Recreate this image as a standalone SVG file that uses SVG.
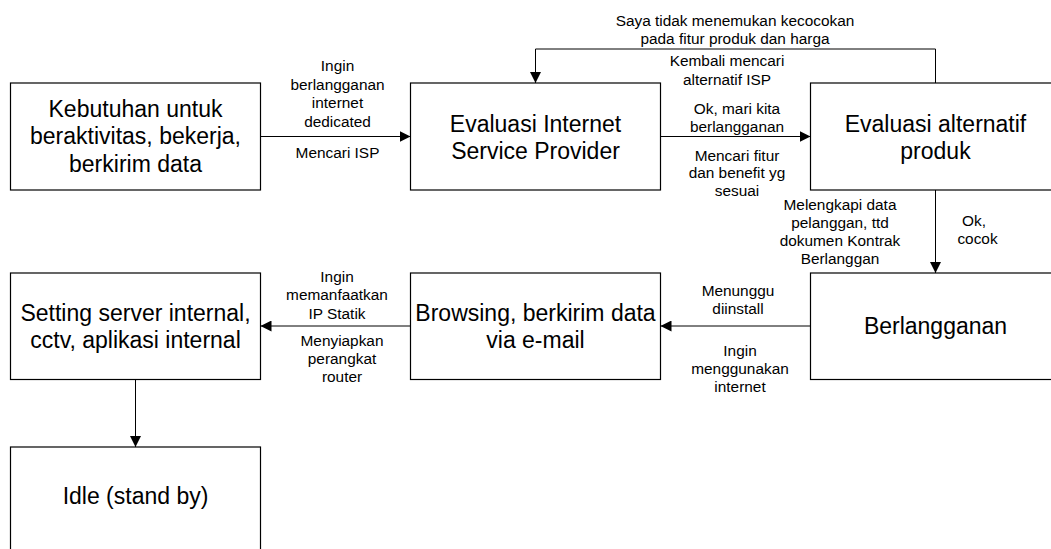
<svg xmlns="http://www.w3.org/2000/svg" width="1051" height="549" viewBox="0 0 1051 549">
  <style>
    .box { fill: #ffffff; stroke: #000000; stroke-width: 1.2; }
    .node-text { font-family: "Liberation Sans", Arial, sans-serif; font-size: 23px; fill: #000000; text-anchor: middle; }
    .label { font-family: "Liberation Sans", Arial, sans-serif; font-size: 15.4px; fill: #000000; text-anchor: middle; }
    .link { fill: none; stroke: #000000; stroke-width: 1; }
  </style>
  <defs>
    <marker id="arrow" viewBox="0 0 11 11" refX="11" refY="5.5" markerWidth="11" markerHeight="11" markerUnits="userSpaceOnUse" orient="auto">
      <path d="M0,0 L11,5.5 L0,11 Z" fill="#000000"/>
    </marker>
  </defs>
  <rect width="1051" height="549" fill="#ffffff"/>

  <!-- nodes -->
  <g id="kebutuhan">
    <rect class="box" x="10.5" y="83" width="250" height="107"/>
    <text class="node-text" x="135.5" y="116.5">Kebutuhan untuk</text>
    <text class="node-text" x="135.5" y="144">beraktivitas, bekerja,</text>
    <text class="node-text" x="135.5" y="171.5">berkirim data</text>
  </g>
  <g id="evaluasi-isp">
    <rect class="box" x="410.5" y="83" width="250" height="107"/>
    <text class="node-text" x="535.5" y="131.5">Evaluasi Internet</text>
    <text class="node-text" x="535.5" y="159">Service Provider</text>
  </g>
  <g id="evaluasi-produk">
    <rect class="box" x="810.5" y="83" width="250" height="107"/>
    <text class="node-text" x="935.5" y="131.5">Evaluasi alternatif</text>
    <text class="node-text" x="935.5" y="159">produk</text>
  </g>
  <g id="berlangganan">
    <rect class="box" x="810.5" y="273" width="250" height="106.5"/>
    <text class="node-text" x="935.5" y="334">Berlangganan</text>
  </g>
  <g id="browsing">
    <rect class="box" x="410.5" y="273" width="250" height="106.5"/>
    <text class="node-text" x="535.5" y="320.5">Browsing, berkirim data</text>
    <text class="node-text" x="535.5" y="348">via e-mail</text>
  </g>
  <g id="setting-server">
    <rect class="box" x="10.5" y="273" width="250" height="106.5"/>
    <text class="node-text" x="135.5" y="320.5">Setting server internal,</text>
    <text class="node-text" x="135.5" y="348">cctv, aplikasi internal</text>
  </g>
  <g id="idle">
    <rect class="box" x="10.5" y="447" width="250" height="120"/>
    <text class="node-text" x="135.5" y="504">Idle (stand by)</text>
  </g>

  <!-- connectors -->
  <g id="connectors">
    <line class="link" x1="260.5" y1="136.5" x2="410.5" y2="136.5" marker-end="url(#arrow)"/>
    <line class="link" x1="660.5" y1="136.5" x2="810.5" y2="136.5" marker-end="url(#arrow)"/>
    <polyline class="link" points="935.5,83 935.5,49 535.5,49 535.5,83" marker-end="url(#arrow)"/>
    <line class="link" x1="935.5" y1="190" x2="935.5" y2="273" marker-end="url(#arrow)"/>
    <line class="link" x1="810.5" y1="326" x2="660.5" y2="326" marker-end="url(#arrow)"/>
    <line class="link" x1="410.5" y1="326" x2="260.5" y2="326" marker-end="url(#arrow)"/>
    <line class="link" x1="135.5" y1="379.5" x2="135.5" y2="447" marker-end="url(#arrow)"/>
  </g>

  <!-- connector labels -->
  <g id="labels">
    <text class="label" x="337.5" y="71">Ingin</text>
    <text class="label" x="337.5" y="89.5">berlangganan</text>
    <text class="label" x="337.5" y="108">internet</text>
    <text class="label" x="337.5" y="126.5">dedicated</text>
    <text class="label" x="337.5" y="158">Mencari ISP</text>

    <text class="label" x="735" y="25.5">Saya tidak menemukan kecocokan</text>
    <text class="label" x="735" y="43.5">pada fitur produk dan harga</text>
    <text class="label" x="727" y="66">Kembali mencari</text>
    <text class="label" x="727" y="84.5">alternatif ISP</text>

    <text class="label" x="737" y="113.5">Ok, mari kita</text>
    <text class="label" x="737" y="132">berlangganan</text>
    <text class="label" x="737" y="160.5">Mencari fitur</text>
    <text class="label" x="737" y="178">dan benefit yg</text>
    <text class="label" x="737" y="195.5">sesuai</text>

    <text class="label" x="840" y="209.5">Melengkapi data</text>
    <text class="label" x="840" y="227.5">pelanggan, ttd</text>
    <text class="label" x="840" y="245.5">dokumen Kontrak</text>
    <text class="label" x="840" y="264">Berlanggan</text>
    <text class="label" x="974" y="226">Ok,</text>
    <text class="label" x="977.5" y="243.5">cocok</text>

    <text class="label" x="738" y="295.5">Menunggu</text>
    <text class="label" x="738" y="313.5">diinstall</text>
    <text class="label" x="740" y="356">Ingin</text>
    <text class="label" x="740" y="374">menggunakan</text>
    <text class="label" x="740" y="392">internet</text>

    <text class="label" x="337" y="282">Ingin</text>
    <text class="label" x="337" y="300">memanfaatkan</text>
    <text class="label" x="337" y="318.5">IP Statik</text>
    <text class="label" x="342" y="346">Menyiapkan</text>
    <text class="label" x="342" y="364">perangkat</text>
    <text class="label" x="342" y="382">router</text>
  </g>
</svg>
